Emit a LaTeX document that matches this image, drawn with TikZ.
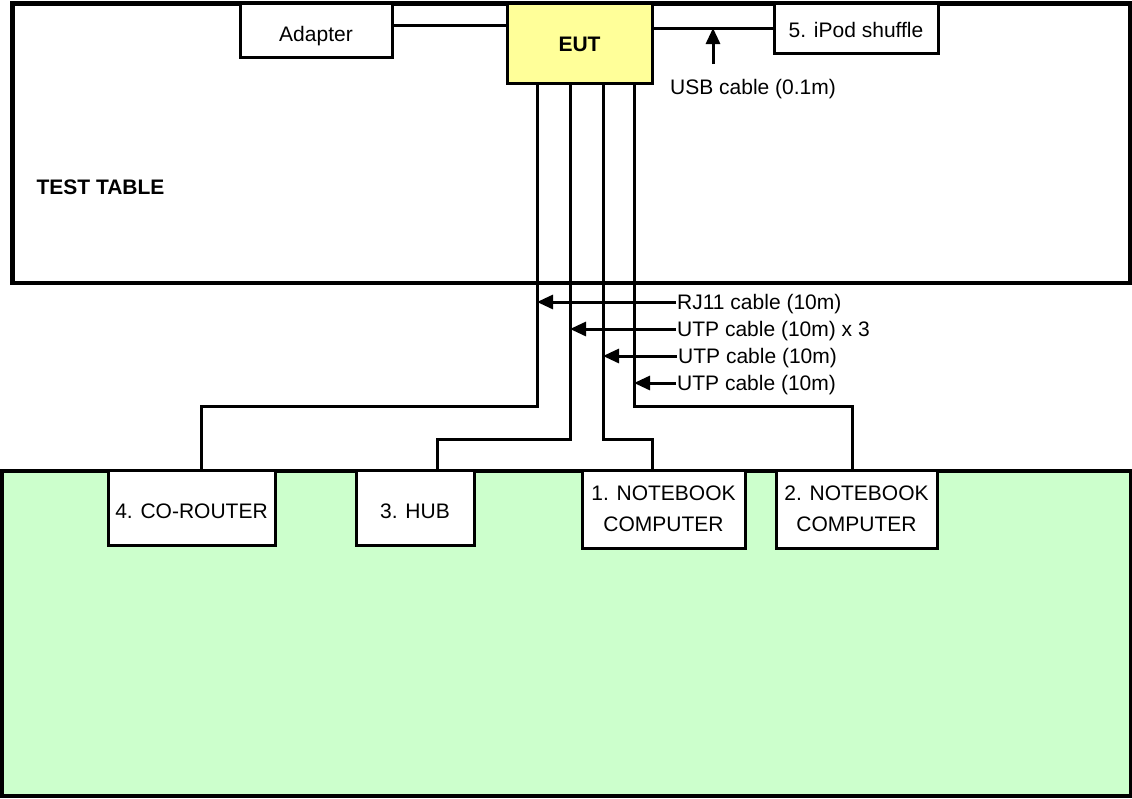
\documentclass[tikz,border=0pt]{standalone}
\usepackage{fontspec}
\setmainfont{Liberation Sans}
\usepackage{tikz}
\usetikzlibrary{arrows, arrows.meta}
\definecolor{eutyellow}{HTML}{FFFF99}
\definecolor{floorgreen}{HTML}{CCFFCC}
\newcommand{\lbl}{\fontsize{21}{31}\selectfont}

\begin{document}
\begin{tikzpicture}[x=1pt, y=-1pt,
		box/.style={draw, line width=3pt, fill=white, inner sep=0pt, font=\lbl, align=center},
		low/.style={text height=#1, text depth=0pt},
		cable/.style={line width=3pt},
		note/.style={font=\lbl, inner sep=1pt, anchor=west, text depth=0pt},
		>={Triangle[length=16pt, width=14pt]}]
			\useasboundingbox (0,0) rectangle (1132,798);
			
			\draw[line width=4.5pt] (12.5,3.3) rectangle (1130,283);
			\draw[line width=4pt, fill=floorgreen] (1.5,470.5) rectangle (1131,795.5);
			\node[font=\lbl\bfseries, anchor=west] (table) at (33,187) {TEST TABLE};
			
			\node[box, low=22pt, minimum width=152, minimum height=54] (adapter) at (316,30) {Adapter};
			\node[box, low=17pt, fill=eutyellow, font=\lbl\bfseries, minimum width=145, minimum height=80] (eut) at (579.5,43) {EUT};
			\node[box, low=19pt, minimum width=164, minimum height=50] (ipod) at (856,28) {5. iPod shuffle};
			
			\node[box, low=22pt, minimum width=167, minimum height=75] (router) at (191.5,507.5) {4. CO-ROUTER};
			\node[box, low=22pt, minimum width=118, minimum height=75] (hub) at (415,507.5) {3. HUB};
			\node[box, minimum width=163, minimum height=78] (nb1) at (663.5,509) {1. NOTEBOOK\\COMPUTER};
			\node[box, minimum width=161, minimum height=78] (nb2) at (856.5,509) {2. NOTEBOOK\\COMPUTER};
			
			\coordinate (k1) at ([xshift=-42.5pt]eut.south);
			\coordinate (k2) at ([xshift=-9.5pt]eut.south);
			\coordinate (k3) at ([xshift=23.5pt]eut.south);
			\coordinate (k4) at ([xshift=54.5pt]eut.south);
			
			% cables on the table
			\draw[cable] ([yshift=5pt]adapter.east) -- ([yshift=5pt]adapter.east -| eut.west);
			\draw[cable] (eut.east |- ipod.west) -- (ipod.west);
			
			% cables down to the floor
			\draw[cable] (k1) -- ++(0,322) -| ([xshift=9.5pt]router.north);
			\draw[cable] (k2) -- ++(0,355) -| ([xshift=22pt]hub.north);
			\draw[cable] (k3) -- ++(0,355) -| ([xshift=-11.5pt]nb1.north);
			\draw[cable] (k4) -- ++(0,322) -| ([xshift=-4.5pt]nb2.north);
			
			\node[note, anchor=north west] (usb) at (669,78) {USB cable (0.1m)};
			\coordinate (usbtail) at (713,64);
			\draw[cable, ->] (usbtail) -- (usbtail |- ipod.west);
			
			\node[note] (rj) at (676,302) {RJ11 cable (10m)};
			\node[note] (utpa) at (676,329) {UTP cable (10m) x 3};
			\node[note] (utpb) at (677,356) {UTP cable (10m)};
			\node[note] (utpc) at (676,383) {UTP cable (10m)};
			\draw[cable, ->] (rj.west) -- (rj.west -| k1);
			\draw[cable, ->] (utpa.west) -- (utpa.west -| k2);
			\draw[cable, ->] (utpb.west) -- (utpb.west -| k3);
			\draw[cable, ->] (utpc.west) -- (utpc.west -| k4);
\end{tikzpicture}
\end{document}
